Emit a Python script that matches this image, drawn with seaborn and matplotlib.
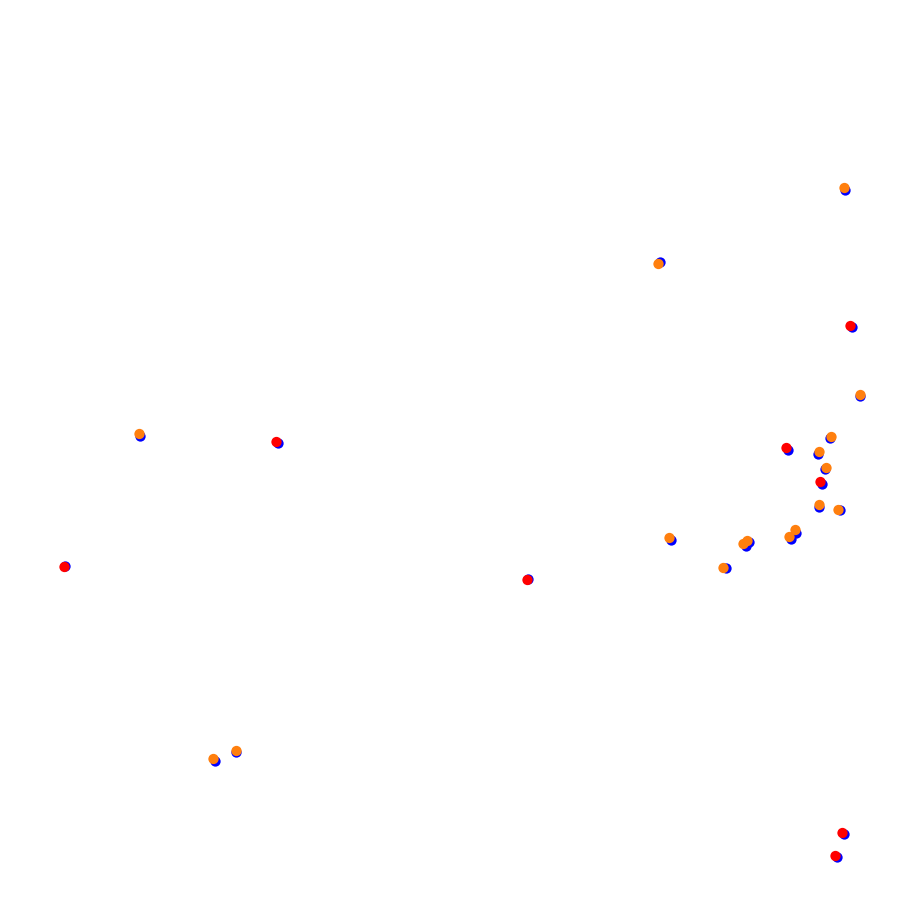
import numpy as np
import pandas as pd
import matplotlib
matplotlib.use("Agg")
import matplotlib.pyplot as plt
import seaborn as sns

# base (blue) points
blue_x = [844, 659, 851, 859, 139, 277, 787, 829, 817, 824, 821, 818, 839,
          795, 790, 670, 748, 745, 725, 64, 527, 235, 214, 843, 836]
blue_y = [190, 262, 327, 396, 436, 443, 450, 438, 454, 469, 484, 507, 510,
          533, 539, 540, 542, 546, 568, 566, 579, 752, 761, 834, 857]

# overlay points (slightly shifted) with their colour group
top_x = [844, 658, 850, 860, 139, 276, 786, 831, 819, 826, 820, 819, 838,
         795, 789, 669, 747, 743, 723, 64, 527, 236, 213, 842, 835]
top_y = [188, 264, 326, 395, 434, 442, 448, 437, 452, 468, 482, 505, 510,
         530, 537, 538, 541, 544, 568, 567, 580, 751, 759, 833, 856]
top_kind = ["orange", "orange", "red", "orange", "orange", "red", "red",
            "orange", "orange", "orange", "red", "orange", "orange",
            "orange", "orange", "orange", "orange", "orange", "orange",
            "red", "red", "orange", "orange", "red", "red"]

base = pd.DataFrame({"x": blue_x, "y": blue_y})
top = pd.DataFrame({"x": top_x, "y": top_y, "kind": top_kind})

fig = plt.figure(figsize=(8.98, 9.12), dpi=100)
ax = fig.add_axes([0, 0, 1, 1])

sns.scatterplot(data=base, x="x", y="y", color="#0000ff", s=55,
                linewidth=0, ax=ax, legend=False)
sns.scatterplot(data=top, x="x", y="y", hue="kind",
                palette={"orange": "#ff7f0e", "red": "#ff0000"},
                s=55, linewidth=0, ax=ax, legend=False)

ax.set_xlim(-0.5, 897.5)
ax.set_ylim(911, -1)
ax.set_axis_off()

fig.savefig("out.png", dpi=100, facecolor="white")
